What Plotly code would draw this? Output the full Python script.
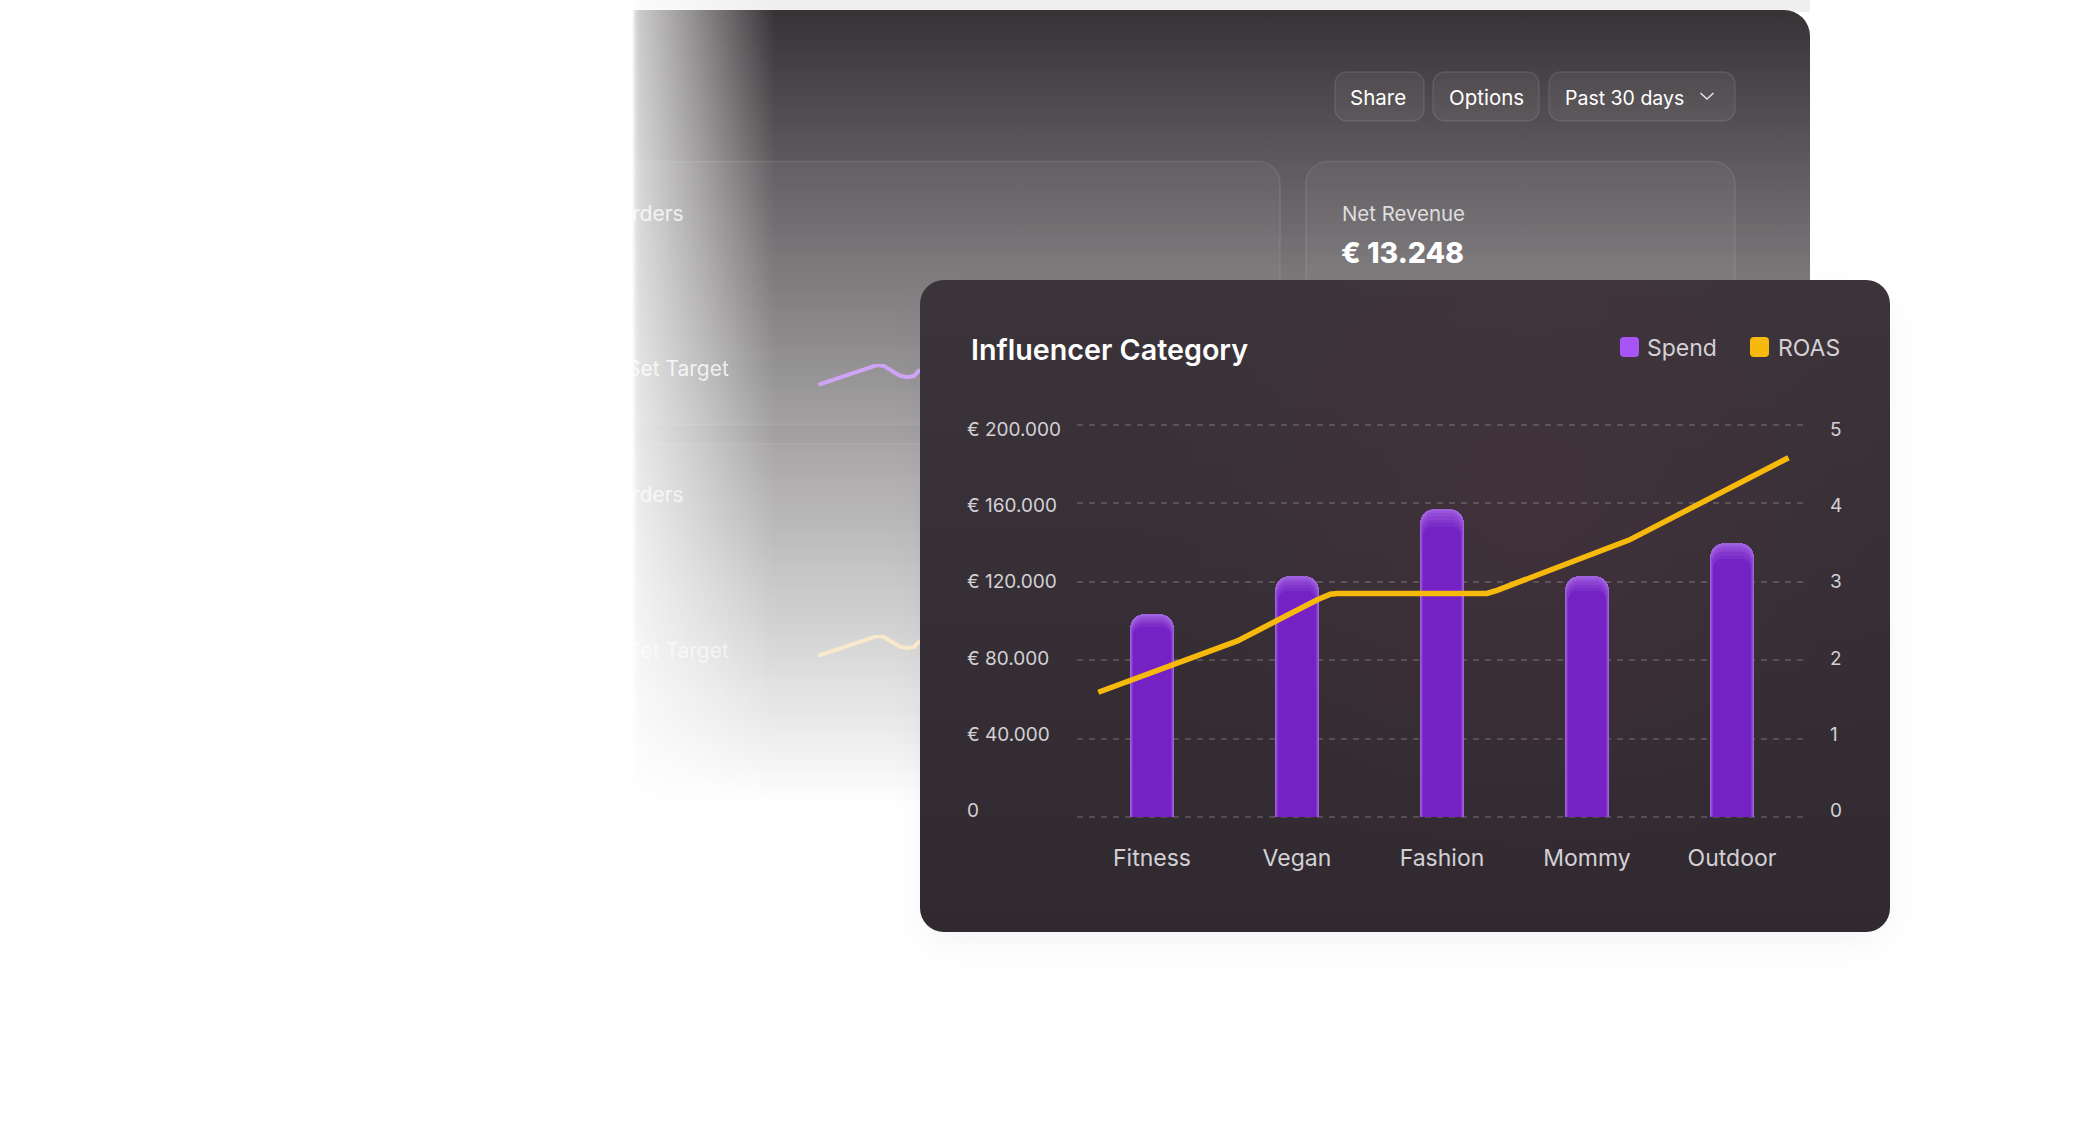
# %%
import base64
import plotly.graph_objects as go

W, H = 2087, 1146

# %%
# chart values
categories = ["Fitness", "Vegan", "Fashion", "Mommy", "Outdoor"]
spend = [103400, 122800, 157400, 122800, 140000]
roas_x = [-0.37, 0.59, 1.14, 1.23, 1.28, 2.31, 2.38, 3.29, 4.39]
roas = [1.59, 2.245, 2.77, 2.84, 2.85, 2.85, 2.89, 3.53, 4.58]
spend_ticks = [0, 40000, 80000, 120000, 160000, 200000]
spend_labels = ["0", "€ 40.000", "€ 80.000", "€ 120.000", "€ 160.000", "€ 200.000"]
roas_ticks = [0, 1, 2, 3, 4, 5]

# little sparklines of the panel behind the card
spark_x = [0, 0.5, 0.58, 0.64, 0.72, 0.8, 0.87, 0.94, 1]
spark_purple = [0, 16, 18, 17.5, 13, 8.5, 7, 8, 14]
spark_cream = [0, 16, 18, 17.5, 13, 8.5, 7, 8, 14]

# %%
# backdrop: back panel fading out + the dark card, no text in here
svg = f"""<svg xmlns="http://www.w3.org/2000/svg" width="{W}" height="{H}" viewBox="0 0 {W} {H}">
<defs>
<linearGradient id="panel" gradientUnits="userSpaceOnUse" x1="0" y1="10" x2="0" y2="805">
<stop offset="0" stop-color="#373236" stop-opacity="1"/>
<stop offset="1" stop-color="#373236" stop-opacity="0"/>
</linearGradient>
<linearGradient id="fadex" gradientUnits="userSpaceOnUse" x1="632" y1="0" x2="775" y2="0">
<stop offset="0" stop-color="#000"/>
<stop offset="0.03" stop-color="#333"/>
<stop offset="0.06" stop-color="#444"/>
<stop offset="0.5" stop-color="#999"/>
<stop offset="1" stop-color="#fff"/>
</linearGradient>
<mask id="fade" maskUnits="userSpaceOnUse" x="0" y="0" width="{W}" height="{H}">
<rect x="0" y="0" width="{W}" height="{H}" fill="url(#fadex)"/>
</mask>
<radialGradient id="glow" gradientUnits="userSpaceOnUse" cx="1530" cy="500" r="400">
<stop offset="0" stop-color="#5a3444" stop-opacity="0.28"/>
<stop offset="1" stop-color="#5a3444" stop-opacity="0"/>
</radialGradient>
<linearGradient id="card" x1="0" y1="0" x2="0" y2="1">
<stop offset="0" stop-color="#3b343b"/>
<stop offset="1" stop-color="#30292f"/>
</linearGradient>
<filter id="soft" x="-10%" y="-10%" width="120%" height="125%">
<feGaussianBlur stdDeviation="18"/>
</filter>
</defs>
<g mask="url(#fade)">
<rect x="632" y="0" width="1178" height="12" fill="#efefef"/>
<path d="M632 10 H1784 a26 26 0 0 1 26 26 V810 H632 Z" fill="url(#panel)"/>
<rect x="560" y="161.5" width="720" height="263" rx="22" fill="#fff" fill-opacity="0.035" stroke="#fff" stroke-opacity="0.09" stroke-width="1.5"/>
<rect x="560" y="443.5" width="720" height="330" rx="22" fill="#fff" fill-opacity="0.03" stroke="#fff" stroke-opacity="0.09" stroke-width="1.5"/>
<rect x="1306" y="161.5" width="429" height="160" rx="22" fill="#fff" fill-opacity="0.035" stroke="#fff" stroke-opacity="0.09" stroke-width="1.5"/>
<rect x="1335" y="72" width="89" height="49" rx="12" fill="#fff" fill-opacity="0.05" stroke="#fff" stroke-opacity="0.1" stroke-width="1.5"/>
<rect x="1433" y="72" width="106" height="49" rx="12" fill="#fff" fill-opacity="0.05" stroke="#fff" stroke-opacity="0.1" stroke-width="1.5"/>
<rect x="1549" y="72" width="186" height="49" rx="12" fill="#fff" fill-opacity="0.05" stroke="#fff" stroke-opacity="0.1" stroke-width="1.5"/>
<path d="M1700.5 93 L1707 99 L1713.5 93" fill="none" stroke="#fff" stroke-opacity="0.85" stroke-width="1.5"/>
</g>
<rect x="925" y="300" width="960" height="640" rx="24" fill="#000" fill-opacity="0.05" filter="url(#soft)"/>
<rect x="920" y="280" width="970" height="652" rx="24" fill="url(#card)"/>
<rect x="920" y="280" width="970" height="652" rx="24" fill="url(#glow)"/>
<rect x="1620" y="337" width="19" height="20" rx="4" fill="#a855f7"/>
<rect x="1750" y="337" width="19" height="20" rx="4" fill="#f7b90b"/>
</svg>"""
bg_uri = "data:image/svg+xml;base64," + base64.b64encode(svg.encode()).decode()

# %%
fig = go.Figure()

# soft inner glow of the bars: same values, redrawn narrower and on a slightly
# stretched axis so the lighter rim shows on the sides and on top
bar_layers = [
    ("y", 0.302, "#9f62dc", 15),
    ("y2", 0.295, "#9856da", 14),
    ("y3", 0.288, "#904ad6", 14),
    ("y4", 0.281, "#8a40d1", 13),
    ("y5", 0.274, "#8336cc", 12),
    ("y6", 0.267, "#7c2cc8", 11),
    ("y7", 0.261, "#7522c4", 10),
]
for axis, bar_w, colour, radius in bar_layers:
    fig.add_trace(go.Bar(
        x=list(range(len(categories))),
        y=spend,
        name="Spend",
        yaxis=axis,
        width=bar_w,
        marker=dict(color=colour, cornerradius=radius, line=dict(width=0)),
    ))

fig.add_trace(go.Scatter(
    x=roas_x,
    y=roas,
    name="ROAS",
    mode="lines",
    yaxis="y8",
    line=dict(color="#f7b90b", width=5.5),
))
# carriers for the two label axes, nothing to see
fig.add_trace(go.Scatter(x=[0] * 6, y=spend_ticks, mode="none", xaxis="x3", yaxis="y9", hoverinfo="skip"))
fig.add_trace(go.Scatter(x=[0] * 6, y=roas_ticks, mode="none", xaxis="x4", yaxis="y10", hoverinfo="skip"))
fig.add_trace(go.Scatter(
    x=spark_x, y=spark_purple, mode="lines", xaxis="x2", yaxis="y11",
    line=dict(color="#cfa3f8", width=4), hoverinfo="skip",
))
fig.add_trace(go.Scatter(
    x=spark_x, y=spark_cream, mode="lines", xaxis="x2", yaxis="y12",
    line=dict(color="#f8e8cc", width=4), hoverinfo="skip",
))

label_font = dict(family="Inter", size=19, color="#d3d1d5")
hidden = dict(visible=False, fixedrange=True)
spend_range = [-1020, 201020]
roas_range = [-0.0255, 5.0255]
label_domain = [(H - 825) / H, (H - 410) / H]


def stretched(scale):
    return dict(overlaying="y", range=[spend_range[0] * scale, spend_range[1] * scale], **hidden)


fig.update_layout(
    width=W,
    height=H,
    margin=dict(l=0, r=0, t=0, b=0),
    paper_bgcolor="white",
    plot_bgcolor="rgba(0,0,0,0)",
    showlegend=False,
    bargap=0,
    images=[dict(source=bg_uri, xref="paper", yref="paper", x=0, y=1, sizex=1, sizey=1,
                 xanchor="left", yanchor="top", sizing="stretch", layer="below")],
    xaxis=dict(
        domain=[1077 / W, 1809 / W],
        range=[-0.517, 4.531],
        tickmode="array",
        tickvals=list(range(len(categories))),
        ticktext=categories,
        showgrid=False,
        zeroline=False,
        showline=False,
        ticks="",
        ticklabelstandoff=23,
        tickfont=dict(family="Inter", size=23, color="#d3d1d5"),
    ),
    yaxis=dict(
        domain=[(H - 819) / H, (H - 422.8) / H],
        range=spend_range,
        tickmode="array",
        tickvals=spend_ticks,
        showticklabels=False,
        showgrid=True,
        gridcolor="rgba(255,255,255,0.17)",
        griddash="6px,6px",
        gridwidth=1.5,
        zeroline=False,
        ticks="",
    ),
    yaxis2=stretched(1.008),
    yaxis3=stretched(1.016),
    yaxis4=stretched(1.026),
    yaxis5=stretched(1.037),
    yaxis6=stretched(1.05),
    yaxis7=stretched(1.065),
    yaxis8=dict(overlaying="y", side="right", range=roas_range, **hidden),
    # labels sit on a slightly tighter scale than the gridlines in the original,
    # so they get their own narrow subplots left and right of the plot
    xaxis3=dict(domain=[964 / W, 1070 / W], range=[0, 1], anchor="y9", **hidden),
    yaxis9=dict(
        domain=label_domain, anchor="x3", side="left",
        range=[-7438, 209952],
        tickmode="array", tickvals=spend_ticks, ticktext=spend_labels,
        ticklabelposition="inside", showgrid=False, zeroline=False, ticks="",
        tickfont=label_font,
    ),
    xaxis4=dict(domain=[1827 / W, 1860 / W], range=[0, 1], anchor="y10", **hidden),
    yaxis10=dict(
        domain=label_domain, anchor="x4", side="left",
        range=[-0.186, 5.249],
        tickmode="array", tickvals=roas_ticks,
        ticklabelposition="inside", showgrid=False, zeroline=False, ticks="",
        tickfont=label_font,
    ),
    xaxis2=dict(domain=[818 / W, 920 / W], range=[0, 1], anchor="y11", **hidden),
    yaxis11=dict(domain=[(H - 386) / H, (H - 364) / H], range=[-1, 19], anchor="x2", **hidden),
    yaxis12=dict(domain=[(H - 657) / H, (H - 635) / H], range=[-1, 19], anchor="x2", **hidden),
)


def note(text, x, y, size, color, anchor="left", weight=400):
    fig.add_annotation(text=text, x=x / W, y=1 - y / H, xref="paper", yref="paper",
                       xanchor=anchor, yanchor="middle", showarrow=False,
                       font=dict(family="Inter", size=size, color=color, weight=weight))


note("Influencer Category", 969, 349, 28.7, "#ffffff", weight=600)
note("Spend", 1645, 348, 23, "#d3d1d5")
note("ROAS", 1776, 348, 23, "#d3d1d5")
note("Share", 1378, 98, 20.5, "#ffffff", "center")
note("Options", 1486, 98, 20.5, "#ffffff", "center")
note("Past 30 days", 1563, 98, 19.5, "#ffffff")
note("Net Revenue", 1340, 213, 20.4, "rgba(255,255,255,0.78)")
note("€ 13.248", 1339, 252, 28.5, "#ffffff", weight=800)
note("Orders", 686, 213, 21, "rgba(255,255,255,0.8)", "right")
note("Orders", 686, 494, 21, "rgba(255,255,255,0.7)", "right")
note("Set Target", 731, 368, 21, "rgba(255,255,255,0.8)", "right")
note("Set Target", 731, 650, 21, "rgba(255,255,255,0.6)", "right")

# %%
fig.write_html("out.html", config=dict(displayModeBar=False),
               post_script="document.body.style.margin='0';")
